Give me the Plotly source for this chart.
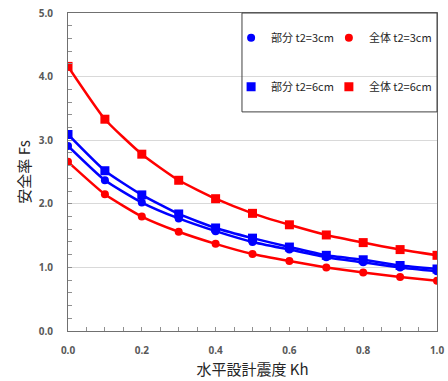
import plotly.graph_objects as go

kh = [0.0, 0.1, 0.2, 0.3, 0.4, 0.5, 0.6, 0.7, 0.8, 0.9, 1.0]
bubun_3cm = [2.91, 2.37, 2.02, 1.77, 1.57, 1.40, 1.28, 1.16, 1.08, 1.00, 0.94]
zentai_3cm = [2.66, 2.15, 1.80, 1.56, 1.37, 1.21, 1.10, 1.00, 0.92, 0.85, 0.79]
bubun_6cm = [3.09, 2.52, 2.14, 1.84, 1.62, 1.46, 1.32, 1.19, 1.12, 1.03, 0.975]
zentai_6cm = [4.16, 3.33, 2.78, 2.37, 2.08, 1.85, 1.67, 1.51, 1.39, 1.28, 1.19]

names = ["部分 t2=3cm", "全体 t2=3cm", "部分 t2=6cm", "全体 t2=6cm"]
series = [bubun_3cm, zentai_3cm, bubun_6cm, zentai_6cm]
colors = ["#0000FF", "#FF0000", "#0000FF", "#FF0000"]
symbols = ["circle", "circle", "square", "square"]
sizes = [8, 8, 9, 9]
legends = ["legend", "legend2", "legend", "legend2"]

fig = go.Figure()
for i in range(4):
    fig.add_trace(go.Scatter(
        x=kh, y=series[i], name=names[i], mode="lines+markers",
        line=dict(color=colors[i], width=2.5, shape="spline", smoothing=0.5),
        marker=dict(symbol=symbols[i], size=sizes[i], color=colors[i]),
        showlegend=False, legendgroup=names[i],
    ))
# legend-only entries (short marker symbol, as in the reference legend)
for i in range(4):
    fig.add_trace(go.Scatter(
        x=[None], y=[None], name=names[i], mode="markers",
        marker=dict(symbol=symbols[i], size=sizes[i], color=colors[i]),
        legend=legends[i], legendgroup=names[i], showlegend=True,
    ))

tick_font = dict(family="Noto Sans, sans-serif", size=10, color="#595959", weight="bold")
leg_font = dict(family="Noto Sans CJK JP, sans-serif", size=11, color="#262626")

fig.update_layout(
    width=448, height=381, autosize=False,
    margin=dict(l=68, r=11, t=13, b=50, autoexpand=False),
    paper_bgcolor="white", plot_bgcolor="white",
    showlegend=True,
    legend=dict(x=0.442, y=0.968, xanchor="left", yanchor="top",
                bgcolor="rgba(0,0,0,0)", font=leg_font, tracegroupgap=30,
                itemwidth=30),
    legend2=dict(x=0.707, y=0.968, xanchor="left", yanchor="top",
                 bgcolor="rgba(0,0,0,0)", font=leg_font, tracegroupgap=30,
                 itemwidth=30),
    shapes=[dict(type="rect", xref="paper", yref="paper",
                 x0=0.4715, x1=1.0, y0=0.689, y1=1.0,
                 line=dict(color="#404040", width=1), fillcolor="rgba(0,0,0,0)")],
)

fig.update_xaxes(
    range=[0, 1.0], dtick=0.2, tickformat=".1f", automargin=False,
    showgrid=False, zeroline=False,
    showline=True, linecolor="#707070", linewidth=1, mirror=True,
    ticks="inside", ticklen=4, tickcolor="#909090",
    minor=dict(dtick=0.05, ticks="inside", ticklen=4, tickcolor="#909090"),
    tickfont=tick_font, ticklabelstandoff=10,
    title=dict(text="水平設計震度 Kh", standoff=8,
               font=dict(family="Noto Sans CJK JP, sans-serif", size=15, color="#262626")),
)
fig.update_yaxes(
    range=[0, 5.0], dtick=1.0, tickformat=".1f", automargin=False,
    showgrid=True, gridcolor="#d9d9d9", gridwidth=1, zeroline=False,
    showline=True, linecolor="#707070", linewidth=1, mirror=True,
    ticks="inside", ticklen=4, tickcolor="#909090",
    minor=dict(dtick=0.2, ticks="inside", ticklen=4, tickcolor="#909090", showgrid=False),
    tickfont=tick_font, ticklabelstandoff=12,
    title=dict(text="安全率 Fs", standoff=4,
               font=dict(family="Noto Sans CJK JP, sans-serif", size=15, color="#262626")),
)

post = (
    "document.documentElement.style.overflow='hidden';"
    "document.body.style.margin='0';"
    "document.body.style.overflow='hidden';"
)
fig.write_html("out.html", post_script=post,
               config={"displayModeBar": False, "responsive": False})
